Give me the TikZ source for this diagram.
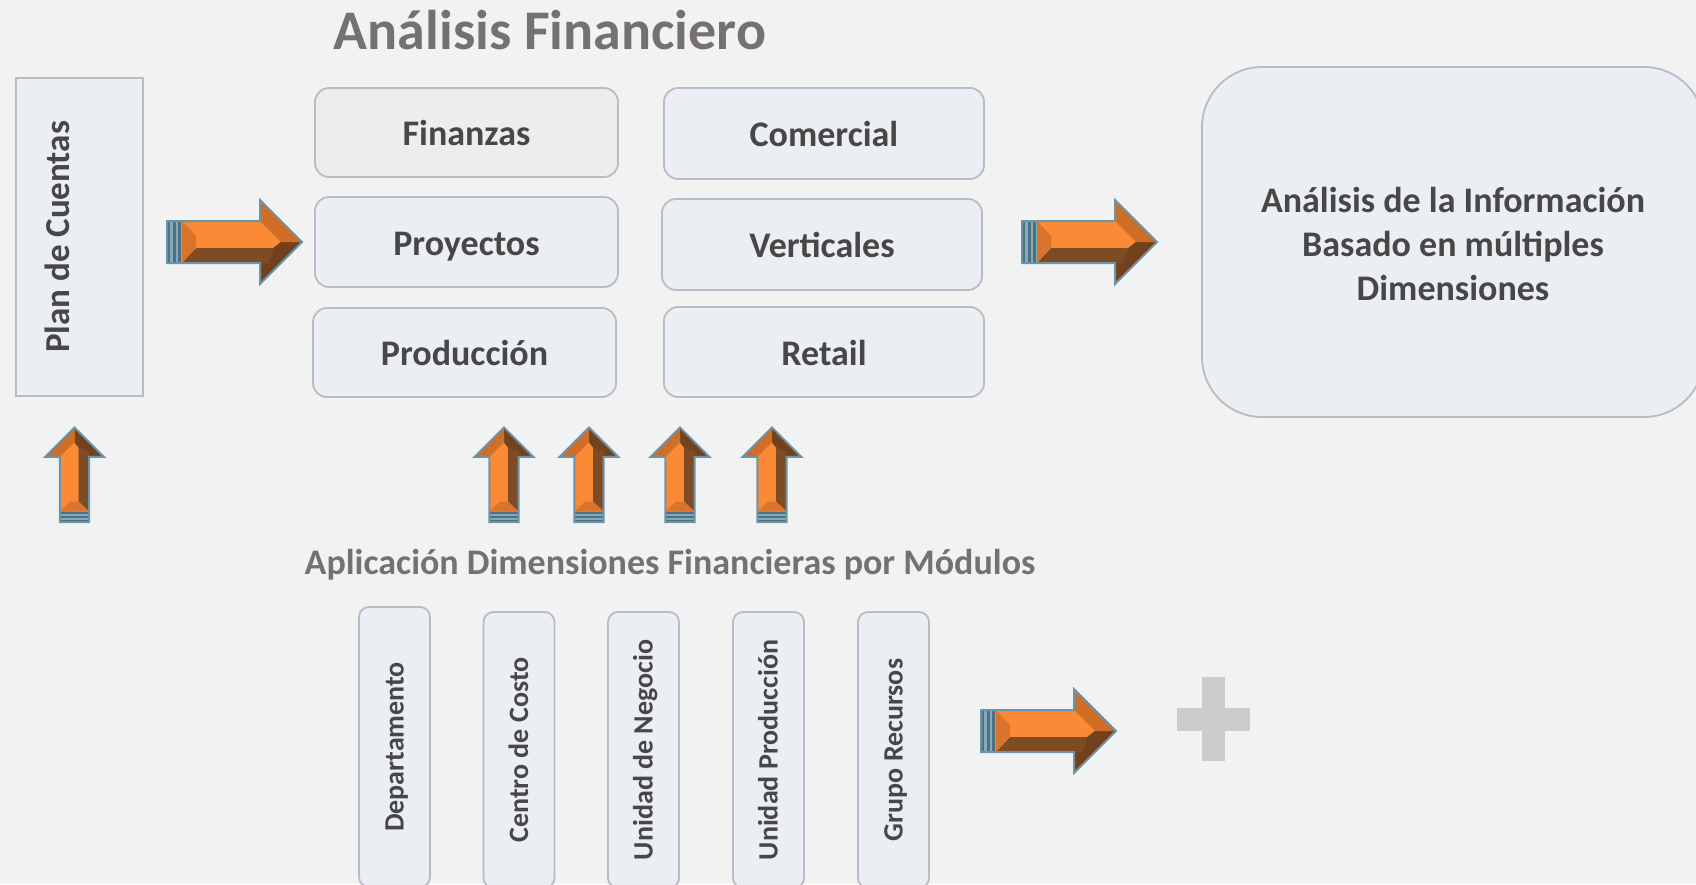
\documentclass[tikz,border=0pt]{standalone}
\usepackage{fontspec}
\setmainfont{Carlito}
\definecolor{bg}{HTML}{F2F2F2}
\definecolor{boxfill}{HTML}{EBEEF2}
\definecolor{boxfillg}{HTML}{EDEDED}
\definecolor{boxline}{HTML}{B7BDC6}
\definecolor{lbl}{HTML}{474747}
\definecolor{ttl}{HTML}{767171}
\definecolor{plus}{HTML}{CCCCCC}
\definecolor{arrbright}{HTML}{FA8A35}
\definecolor{arrbevel}{HTML}{D8742B}
\definecolor{arrheadup}{HTML}{D06E28}
\definecolor{arrbrown}{HTML}{7F4B25}
\definecolor{arrheadlow}{HTML}{72421E}
\definecolor{arrline}{HTML}{6C93A6}
\definecolor{arrtail}{HTML}{86A8B8}
\definecolor{arrstripe}{HTML}{4D7183}
\newcommand{\bevarrow}[2]{%
\begin{scope}[#2]
 \fill[arrbright] (0,-21) -- (93,-21) -- (93,-42) -- (135,0) -- (93,42) -- (93,21) -- (0,21) -- cycle;
 \fill[arrbrown] (15,21) -- (29,6) -- (106,6) -- (114,0) -- (135,0) -- (93,42) -- (93,21) -- cycle;
 \fill[arrheadlow] (101,21) -- (107,6) -- (114,0) -- (135,0) -- (93,42) -- (93,21) -- cycle;
 \fill[arrheadup] (93,-21) -- (93,-42) -- (135,0) -- (114,0) -- cycle;
 \fill[arrbevel] (15,-21) -- (29,-6) -- (29,6) -- (15,21) -- cycle;
 \fill[arrtail] (0,-21) rectangle (15,21);
 \fill[arrstripe] (0,-21) rectangle (3,21);
 \fill[arrstripe] (6,-21) rectangle (9,21);
 \fill[arrstripe] (11,-21) rectangle (14,21);
 \draw[arrline, line width=2pt, line join=miter] (0,-21) -- (93,-21) -- (93,-42) -- (135,0) -- (93,42) -- (93,21) -- (0,21) -- cycle;
 \coordinate (#1) at (67,0);
\end{scope}}
\begin{document}
\begin{tikzpicture}[x=1pt,y=-1pt,
  box/.style={draw=boxline, line width=1.8pt, fill=boxfill, rounded corners=14pt,
    font=\fontsize{36}{42}\selectfont\bfseries, text=lbl, text height=26pt, text depth=0pt, inner sep=0pt},
  vbox/.style={draw=boxline, line width=1.8pt, fill=boxfill, rounded corners=10pt, rotate=90,
    minimum height=71pt,
    font=\fontsize{28}{34}\selectfont\bfseries, text=lbl, text height=18pt, text depth=0pt, inner sep=0pt},
  head/.style={font=\fontsize{56}{62}\selectfont\bfseries, text=ttl, inner sep=0pt},
  sub/.style={font=\fontsize{36}{42}\selectfont\bfseries, text=ttl, inner sep=0pt},
  ]
\useasboundingbox (0,0) rectangle (1696,884);
\clip (0,0) rectangle (1696,884);
\fill[bg] (0,0) rectangle (1696,884);

% title
\node[head, anchor=base] (title) at (550,49) {Análisis Financiero};

% plan de cuentas
\node[draw=boxline, line width=1.8pt, fill=boxfill, minimum width=127pt, minimum height=318pt] (plan) at (79.5,237) {};
\node[rotate=90, font=\fontsize{35}{42}\selectfont\bfseries, text=lbl, text height=22pt, text depth=0pt, inner sep=0pt] (plantxt) at (58,237) {Plan de Cuentas};

% module boxes
\node[box, fill=boxfillg, minimum width=303pt, minimum height=89pt] (fin) at (466.5,132.5) {Finanzas};
\node[box, minimum width=303pt, minimum height=90pt] (proy) at (466.5,242) {Proyectos};
\node[box, minimum width=303pt, minimum height=89pt] (prod) at (464.5,352.5) {Producción};
\node[box, minimum width=320pt, minimum height=91pt] (com) at (824,133.5) {Comercial};
\node[box, minimum width=320pt, minimum height=91pt] (vert) at (822,244.5) {Verticales};
\node[box, minimum width=320pt, minimum height=90pt] (ret) at (824,352) {Retail};

% big box
\node[draw=boxline, line width=1.8pt, fill=boxfill, rounded corners=60pt, minimum width=502pt, minimum height=350pt] (info) at (1453,242) {};
\node[font=\fontsize{36}{44}\selectfont\bfseries, text=lbl, align=center, inner sep=0pt] (infotxt) at (1453,244) {Análisis de la Información\\Basado en múltiples\\Dimensiones};

% right arrows
\bevarrow{a1}{shift={(167,242)}}
\bevarrow{a2}{shift={(1022,242)}}
\bevarrow{a3}{shift={(981,731)}}

% up arrows
\bevarrow{u0}{shift={(74.5,522)}, rotate=90, scale=0.7}
\bevarrow{u1}{shift={(504,522)}, rotate=90, scale=0.7}
\bevarrow{u2}{shift={(589,522)}, rotate=90, scale=0.7}
\bevarrow{u3}{shift={(680,522)}, rotate=90, scale=0.7}
\bevarrow{u4}{shift={(772,522)}, rotate=90, scale=0.7}

% subtitle
\node[sub, anchor=base] (subt) at (670,574) {Aplicación Dimensiones Financieras por Módulos};

% dimension boxes
\node[vbox, minimum width=280pt] (dep) at (394.5,747) {Departamento};
\node[vbox, minimum width=276pt] (cc) at (519,750) {Centro de Costo};
\node[vbox, minimum width=276pt] (un) at (643.5,750) {Unidad de Negocio};
\node[vbox, minimum width=276pt] (up) at (768.5,750) {Unidad Producción};
\node[vbox, minimum width=276pt] (gr) at (893.5,750) {Grupo Recursos};

% plus
\fill[plus] (1202,677) rectangle (1225,761);
\fill[plus] (1177,708) rectangle (1250,731);
\end{tikzpicture}
\end{document}
